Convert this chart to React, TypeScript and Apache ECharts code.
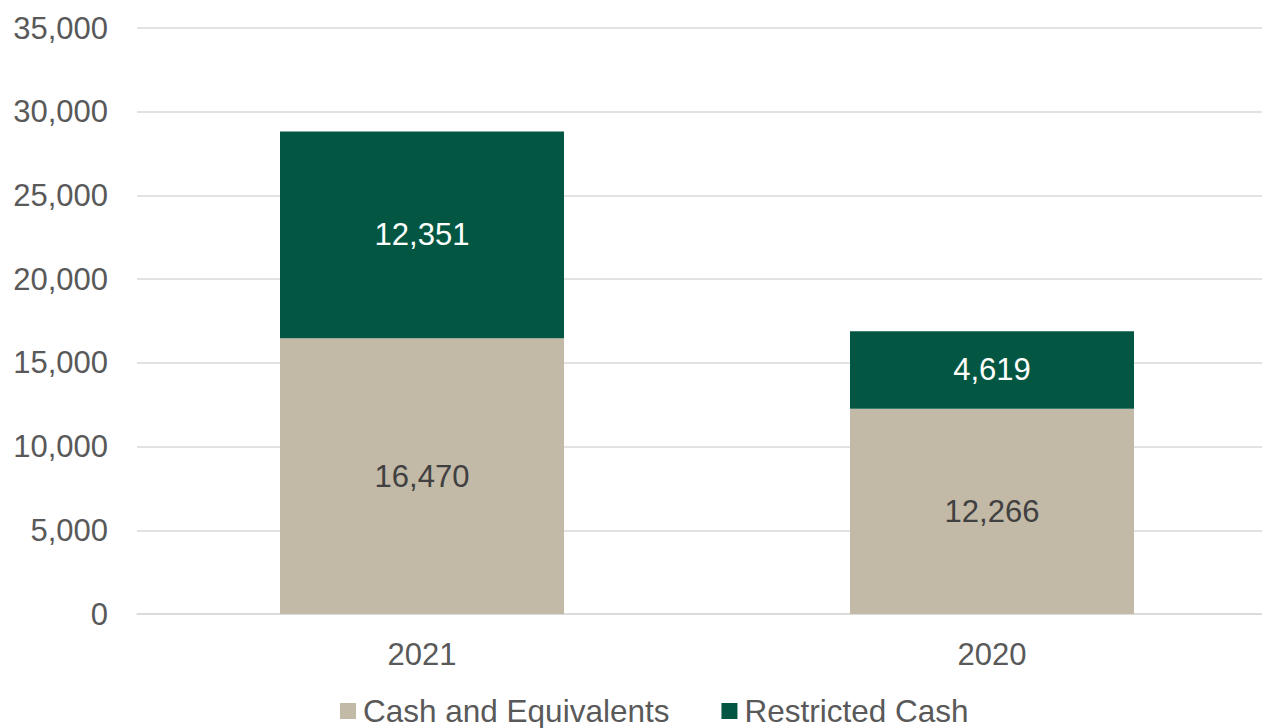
import React, { useEffect, useRef } from "react";
import * as echarts from "echarts";

const categories = ["2021", "2020"];
const cashAndEquivalents = [16470, 12266];
const restrictedCash = [12351, 4619];
const seriesNames = ["Cash and Equivalents", "Restricted Cash"];
const yMin = 0;
const yMax = 35000;
const yInterval = 5000;

const FONT = "'Liberation Sans', Arial, sans-serif";
const fmt = (v: number) => v.toLocaleString("en-US");

export default function App() {
  const ref = useRef<HTMLDivElement>(null);
  useEffect(() => {
    if (!ref.current) return;
    const chart = echarts.init(ref.current, null, { renderer: "svg" });
    chart.setOption({
      animation: false,
      backgroundColor: "#ffffff",
      grid: { left: 137, right: 0, top: 28, bottom: 114, containLabel: false },
      legend: {
        top: 690,
        left: 335,
        itemWidth: 16,
        itemHeight: 16,
        itemGap: 52,
        icon: "rect",
        textStyle: { fontFamily: FONT, fontSize: 31.5, color: "#595959", padding: [0, 0, 0, 2] },
        data: seriesNames,
      },
      xAxis: {
        type: "category",
        data: categories,
        axisLine: { show: true, lineStyle: { color: "#D9D9D9", width: 1.5 } },
        axisTick: { show: false },
        axisLabel: { fontFamily: FONT, fontSize: 31, color: "#595959", margin: 25 },
      },
      yAxis: {
        type: "value",
        min: yMin,
        max: yMax,
        interval: yInterval,
        axisLine: { show: false },
        axisTick: { show: false },
        splitLine: { lineStyle: { color: "#D9D9D9", width: 1.5 } },
        axisLabel: {
          fontFamily: FONT,
          fontSize: 31,
          color: "#595959",
          margin: 29,
          formatter: (v: number) => fmt(v),
        },
      },
      series: [
        {
          name: seriesNames[0],
          type: "bar",
          stack: "total",
          barWidth: 284,
          data: cashAndEquivalents,
          itemStyle: { color: "#C2B9A7" },
          label: {
            show: true,
            position: "inside",
            fontFamily: FONT,
            fontSize: 31,
            color: "#404040",
            formatter: (p: any) => fmt(p.value),
          },
        },
        {
          name: seriesNames[1],
          type: "bar",
          stack: "total",
          barWidth: 284,
          data: restrictedCash,
          itemStyle: { color: "#035742" },
          label: {
            show: true,
            position: "inside",
            fontFamily: FONT,
            fontSize: 31,
            color: "#ffffff",
            formatter: (p: any) => fmt(p.value),
          },
        },
      ],
    });
    return () => chart.dispose();
  }, []);
  return (
    <div
      ref={ref}
      style={{ position: "fixed", left: 0, top: 0, width: 1277, height: 728, background: "#fff" }}
    />
  );
}
